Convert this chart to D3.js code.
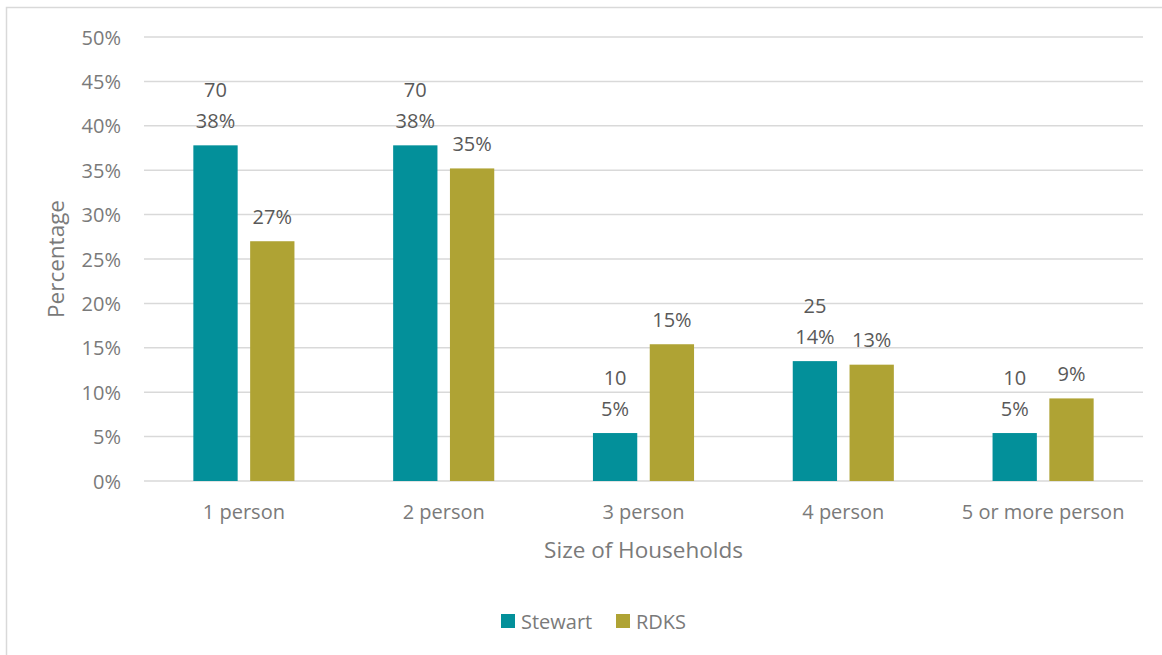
<!DOCTYPE html>
<html>
<head>
<meta charset="utf-8">
<script src="https://cdn.jsdelivr.net/npm/d3@7"></script>
<style>
  html, body { margin: 0; padding: 0; background: #fff; }
  svg { display: block; font-family: "Open Sans", sans-serif; }
</style>
</head>
<body>
<svg id="chart" width="1162" height="655"></svg>
<script>
// Household size distribution: Stewart vs RDKS
const categories = ["1 person", "2 person", "3 person", "4 person", "5 or more person"];
const series = ["Stewart", "RDKS"];
const stewartCounts = [70, 70, 10, 25, 10];
const stewartShare = [0.378, 0.378, 0.054, 0.135, 0.054];
const rdksShare = [0.270, 0.352, 0.154, 0.131, 0.093];
const yTicks = [0, 0.05, 0.10, 0.15, 0.20, 0.25, 0.30, 0.35, 0.40, 0.45, 0.50];
const colors = { Stewart: "#03909A", RDKS: "#AFA334" };

const svg = d3.select("#chart");

// outer frame
svg.append("rect")
  .attr("x", 6.5).attr("y", 7.5)
  .attr("width", 1200).attr("height", 700)
  .attr("fill", "none").attr("stroke", "#d9d9d9").attr("stroke-width", 1.5);

const plot = { left: 144, right: 1143, top: 37, bottom: 481 };

const y = d3.scaleLinear().domain([0, 0.5]).range([plot.bottom, plot.top]);
const x0 = d3.scaleBand().domain(categories).range([plot.left, plot.right]);
const bw = x0.bandwidth();
const x1 = d3.scaleBand().domain(series)
  .range([bw * 0.247, bw * 0.753]).paddingInner(0.22);

const pct = d3.format(".0%");

// gridlines
svg.append("g").selectAll("line").data(yTicks).join("line")
  .attr("x1", plot.left).attr("x2", plot.right)
  .attr("y1", d => y(d)).attr("y2", d => y(d))
  .attr("stroke", "#d9d9d9").attr("stroke-width", 1.5);

// y axis labels
const yAxis = d3.axisLeft(y).tickValues(yTicks).tickFormat(pct).tickSize(0).tickPadding(0);
const gy = svg.append("g").attr("transform", "translate(121,0)").call(yAxis);
gy.select(".domain").remove();
gy.selectAll("text")
  .attr("font-size", 20).attr("font-family", "Open Sans")
  .attr("fill", "#7a7a7a").attr("dy", "0.35em");

// x axis labels
const xAxis = d3.axisBottom(x0).tickSize(0).tickPadding(0);
const gx = svg.append("g").attr("transform", `translate(0,${plot.bottom})`).call(xAxis);
gx.select(".domain").remove();
gx.selectAll("text")
  .attr("font-size", 20).attr("font-family", "Open Sans")
  .attr("fill", "#7a7a7a").attr("dy", 0).attr("y", 38);

const rows = categories.map((c, i) => ({
  cat: c,
  vals: [
    { s: "Stewart", v: stewartShare[i], n: stewartCounts[i] },
    { s: "RDKS", v: rdksShare[i] }
  ]
}));

const groups = svg.append("g").selectAll("g").data(rows).join("g")
  .attr("transform", d => `translate(${x0(d.cat)},0)`);

groups.selectAll("rect").data(d => d.vals).join("rect")
  .attr("x", d => x1(d.s))
  .attr("width", x1.bandwidth())
  .attr("y", d => y(d.v))
  .attr("height", d => y(0) - y(d.v))
  .attr("fill", d => colors[d.s]);

// value labels
groups.selectAll("text.pct").data(d => d.vals).join("text")
  .attr("class", "pct")
  .attr("x", d => x1(d.s) + x1.bandwidth() / 2)
  .attr("y", d => y(d.v) - 17.5)
  .attr("text-anchor", "middle")
  .attr("font-size", 20).attr("fill", "#595959")
  .text(d => pct(d.v));

groups.selectAll("text.cnt").data(d => d.vals.filter(v => v.n != null)).join("text")
  .attr("class", "cnt")
  .attr("x", d => x1(d.s) + x1.bandwidth() / 2)
  .attr("y", d => y(d.v) - 48)
  .attr("text-anchor", "middle")
  .attr("font-size", 20).attr("fill", "#595959")
  .text(d => d.n);

// axis titles
svg.append("text")
  .attr("x", 643.5).attr("y", 558)
  .attr("text-anchor", "middle")
  .attr("font-size", 22.5).attr("fill", "#7a7a7a")
  .text("Size of Households");

svg.append("text")
  .attr("transform", "translate(64,259) rotate(-90)")
  .attr("text-anchor", "middle")
  .attr("font-size", 22.5).attr("fill", "#7a7a7a")
  .text("Percentage");

// legend
const legendItems = [
  { s: "Stewart", x: 501 },
  { s: "RDKS", x: 616 }
];
const lg = svg.append("g").selectAll("g").data(legendItems).join("g")
  .attr("transform", d => `translate(${d.x},614)`);
lg.append("rect").attr("width", 14).attr("height", 14).attr("fill", d => colors[d.s]);
lg.append("text").attr("x", 20).attr("y", 14.5)
  .attr("font-size", 20).attr("fill", "#7a7a7a")
  .text(d => d.s);
</script>
</body>
</html>
